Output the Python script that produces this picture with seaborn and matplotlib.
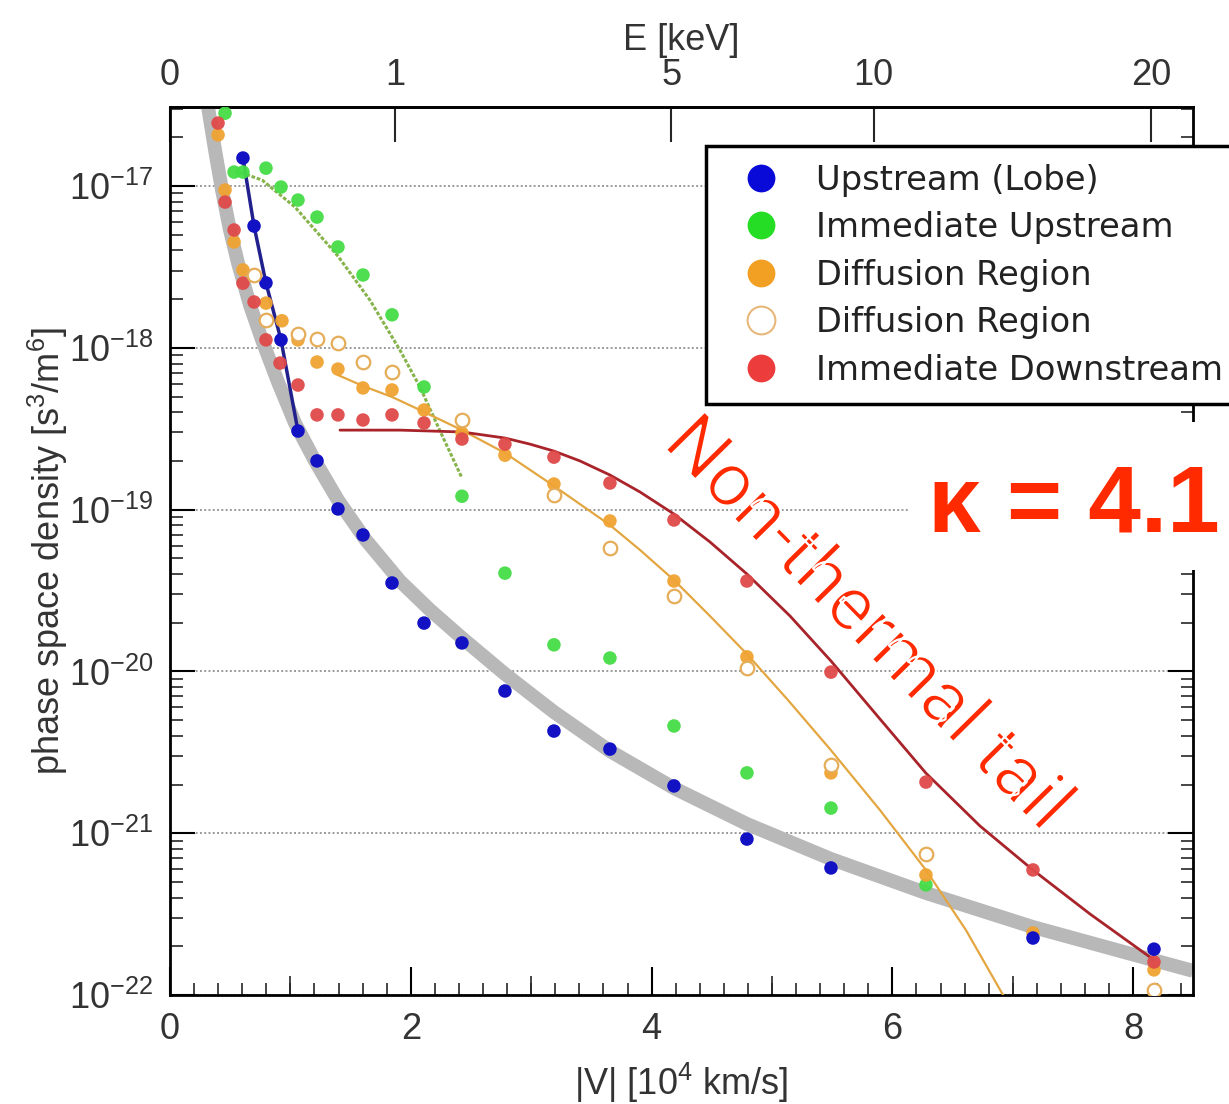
import numpy as np
import pandas as pd
import matplotlib
matplotlib.use("Agg")
import matplotlib.pyplot as plt
import matplotlib.patheffects as pe
import seaborn as sns
from matplotlib.ticker import MultipleLocator, FixedLocator, LogLocator, LogFormatterMathtext, NullFormatter
from matplotlib.lines import Line2D
from matplotlib.patches import Rectangle

# ---------------- data (|V| in 10^4 km/s, phase space density in s^3/m^6) ----------------
lobe_v = [0.606, 0.698, 0.797, 0.922, 1.063, 1.221, 1.395, 1.603, 1.844, 2.110, 2.425, 2.782,
          3.189, 3.654, 4.186, 4.792, 5.490, 7.168, 8.173]
lobe_f = [1.49e-17, 5.66e-18, 2.52e-18, 1.12e-18, 3.06e-19, 2.0e-19, 1.01e-19, 6.97e-20, 3.52e-20,
          1.99e-20, 1.50e-20, 7.57e-21, 4.28e-21, 3.31e-21, 1.96e-21, 9.2e-22, 6.1e-22, 2.25e-22, 1.92e-22]

imup_v = [0.457, 0.532, 0.606, 0.797, 0.922, 1.063, 1.221, 1.395, 1.603, 1.844, 2.110, 2.425,
          2.782, 3.189, 3.654, 4.186, 4.792, 5.490, 6.279]
imup_f = [2.82e-17, 1.22e-17, 1.22e-17, 1.29e-17, 9.86e-18, 8.19e-18, 6.43e-18, 4.20e-18, 2.82e-18,
          1.60e-18, 5.73e-19, 1.21e-19, 4.05e-20, 1.46e-20, 1.21e-20, 4.60e-21, 2.36e-21, 1.43e-21, 4.79e-22]

diff_v = [0.399, 0.457, 0.532, 0.606, 0.797, 0.930, 1.063, 1.221, 1.395, 1.603, 1.844, 2.110,
          2.425, 2.782, 3.189, 3.654, 4.186, 4.792, 5.490, 6.279, 7.168, 8.173]
diff_f = [2.07e-17, 9.45e-18, 4.51e-18, 3.03e-18, 1.89e-18, 1.47e-18, 1.12e-18, 8.17e-19, 7.39e-19,
          5.65e-19, 5.49e-19, 4.13e-19, 2.97e-19, 2.17e-19, 1.44e-19, 8.51e-20, 3.62e-20, 1.23e-20,
          2.36e-21, 5.52e-22, 2.42e-22, 1.43e-22]

diffo_v = [0.698, 0.797, 1.063, 1.221, 1.395, 1.603, 1.844, 2.425, 3.189, 3.654, 4.186, 4.792,
           5.490, 6.279, 8.173]
diffo_f = [2.82e-18, 1.49e-18, 1.22e-18, 1.13e-18, 1.07e-18, 8.17e-19, 7.08e-19, 3.58e-19, 1.23e-19,
           5.79e-20, 2.92e-20, 1.05e-20, 2.64e-21, 7.43e-22, 1.07e-22]

imdn_v = [0.399, 0.457, 0.532, 0.606, 0.698, 0.797, 0.914, 1.063, 1.221, 1.395, 1.603, 1.844, 2.110,
          2.425, 2.782, 3.189, 3.654, 4.186, 4.792, 5.490, 6.279, 7.168, 8.173]
imdn_f = [2.45e-17, 7.96e-18, 5.35e-18, 2.51e-18, 1.92e-18, 1.12e-18, 8.05e-19, 5.89e-19, 3.85e-19,
          3.85e-19, 3.58e-19, 3.85e-19, 3.43e-19, 2.73e-19, 2.54e-19, 2.11e-19, 1.46e-19, 8.63e-20,
          3.62e-20, 9.9e-21, 2.07e-21, 5.93e-22, 1.60e-22]

# fitted curves
kappa_v = [0.300, 0.316, 0.374, 0.432, 0.498, 0.565, 0.664, 0.764, 0.897, 1.038, 1.204, 1.395, 1.620,
           1.910, 2.159, 2.425, 2.782, 3.189, 3.654, 4.186, 4.792, 5.490, 6.279, 7.168, 8.173, 8.497]
kappa_f = [3.8e-17, 3.08e-17, 1.67e-17, 9.45e-18, 5.35e-18, 3.34e-18, 1.84e-18, 1.12e-18, 6.15e-19,
           3.43e-19, 2.00e-19, 1.146e-19, 6.58e-20, 3.62e-20, 2.40e-20, 1.61e-20, 9.64e-21, 5.61e-21,
           3.22e-21, 1.90e-21, 1.14e-21, 6.93e-22, 4.27e-22, 2.63e-22, 1.64e-22, 1.41e-22]

imup_fit_v = [0.548, 0.764, 1.038, 1.395, 1.661, 1.910, 2.076, 2.243, 2.425]
imup_fit_f = [1.24e-17, 1.09e-17, 7.42e-18, 3.69e-18, 1.97e-18, 9.68e-19, 5.73e-19, 3.06e-19, 1.57e-19]

diff_fit_v = [1.395, 1.603, 1.844, 2.076, 2.425, 2.782, 3.189, 3.654, 3.904, 4.186, 4.485, 4.792,
              5.133, 5.482, 5.897, 6.279, 6.611, 6.919, 6.977]
diff_fit_f = [6.79e-19, 5.81e-19, 4.97e-19, 4.13e-19, 3.10e-19, 2.24e-19, 1.40e-19, 8.03e-20, 5.63e-20,
              3.67e-20, 2.20e-20, 1.28e-20, 6.65e-21, 3.31e-21, 1.39e-21, 5.92e-22, 2.52e-22, 1.0e-22,
              8.31e-23]

imdn_fit_v = [1.412, 1.910, 2.425, 2.782, 2.990, 3.189, 3.405, 3.654, 3.904, 4.186, 4.485, 4.792,
              5.150, 5.490, 5.897, 6.279, 6.728, 7.168, 7.641, 8.173]
imdn_fit_f = [3.10e-19, 3.10e-19, 3.02e-19, 2.77e-19, 2.54e-19, 2.30e-19, 2.00e-19, 1.637e-19, 1.285e-19,
              9.39e-20, 6.31e-20, 4.00e-20, 2.20e-20, 1.16e-20, 5.08e-21, 2.35e-21, 1.108e-21, 5.92e-22,
              3.17e-22, 1.646e-22]

legend_labels = ["Upstream (Lobe)", "Immediate Upstream", "Diffusion Region", "Diffusion Region",
                 "Immediate Downstream"]
energy_ticks = [0, 1, 5, 10, 20]  # keV
v_ticks = [0, 2, 4, 6, 8]

# ---------------- style ----------------
sns.set_theme(style="white")
plt.rcParams['font.family'] = ['Liberation Sans', 'DejaVu Sans']
plt.rcParams['mathtext.fontset'] = 'custom'
plt.rcParams['mathtext.rm'] = 'Liberation Sans'
plt.rcParams['mathtext.it'] = 'Liberation Sans'
plt.rcParams['mathtext.bf'] = 'Liberation Sans:bold'

fig = plt.figure(figsize=(12.29, 11.04), dpi=100)
ax = fig.add_axes([170 / 1229, 1 - 995 / 1104, (1193 - 170) / 1229, (995 - 107) / 1104])
ax.set_yscale('log')

def df(v, f):
    return pd.DataFrame({"v": v, "f": f})

# fits
sns.lineplot(data=df(kappa_v, kappa_f), x="v", y="f", sort=False, estimator=None, ax=ax,
             color="#b8b8b8", lw=10, zorder=2, solid_capstyle="butt")
sns.lineplot(data=df(imup_fit_v, imup_fit_f), x="v", y="f", sort=False, estimator=None, ax=ax,
             color="#86b34a", lw=2.2, zorder=3, linestyle=(0, (1.2, 0.6)))
sns.lineplot(data=df(diff_fit_v, diff_fit_f), x="v", y="f", sort=False, estimator=None, ax=ax,
             color="#e3a640", lw=1.6, zorder=3)
sns.lineplot(data=df(imdn_fit_v, imdn_fit_f), x="v", y="f", sort=False, estimator=None, ax=ax,
             color="#a8242a", lw=2.0, zorder=3)
sns.lineplot(data=df(lobe_v[:5], lobe_f[:5]), x="v", y="f", sort=False, estimator=None, ax=ax,
             color="#22208c", lw=2.5, zorder=3)

# points
ms = 95
sns.scatterplot(data=df(imup_v, imup_f), x="v", y="f", ax=ax, color="#45dd45", s=ms,
                edgecolor="none", zorder=4, alpha=0.95)
sns.scatterplot(data=df(diff_v, diff_f), x="v", y="f", ax=ax, color="#f0a332", s=ms,
                edgecolor="none", zorder=4, alpha=0.95)
sns.scatterplot(data=df(diffo_v, diffo_f), x="v", y="f", ax=ax, color="white", s=ms,
                edgecolor="#e6ad58", linewidth=1.6, zorder=5)
sns.scatterplot(data=df(imdn_v, imdn_f), x="v", y="f", ax=ax, color="#e04a4a", s=ms,
                edgecolor="none", zorder=4, alpha=0.95)
sns.scatterplot(data=df(lobe_v, lobe_f), x="v", y="f", ax=ax, color="#1212c4", s=ms,
                edgecolor="none", zorder=4)

# axes limits & ticks
ax.set_xlim(0, 8.497)
ax.set_ylim(1e-22, 3.08e-17)

ax.xaxis.set_major_locator(FixedLocator(v_ticks))
ax.xaxis.set_minor_locator(MultipleLocator(0.2))
ax.yaxis.set_major_locator(LogLocator(base=10))
ax.yaxis.set_minor_locator(LogLocator(base=10, subs=np.arange(2, 10)))
ax.yaxis.set_major_formatter(LogFormatterMathtext())
ax.yaxis.set_minor_formatter(NullFormatter())

tick_col = "#333333"
ax.tick_params(axis='both', which='major', direction='in', width=1.5, colors='black',
               labelcolor=tick_col, labelsize=26)
ax.tick_params(axis='x', which='major', length=20, pad=12, bottom=True, top=False)
ax.tick_params(axis='x', which='minor', direction='in', length=9, width=1.2, bottom=True, top=False)
ax.tick_params(axis='y', which='major', length=18, pad=12, left=True, right=True)
ax.tick_params(axis='y', which='minor', direction='in', length=9, width=1.2, left=True, right=True)

# medium ticks at odd integers
odd = ax.secondary_xaxis('bottom')
odd.set_xticks([1, 3, 5, 7])
odd.tick_params(direction='in', length=14, width=1.2, labelbottom=False)
odd.spines['bottom'].set_visible(False)

for sp in ax.spines.values():
    sp.set_color("black")
    sp.set_linewidth(2)

ax.yaxis.grid(True, which='major', color='#9a9a9a', linestyle=(0, (1, 1.2)), lw=1.4)
ax.xaxis.grid(False)

# top energy axis (relativistic electrons)
def e_to_v(E):
    gamma = 1 + np.asarray(E, dtype=float) / 511.0
    beta = np.sqrt(1 - 1 / gamma ** 2)
    return beta * 299792.458 / 1e4

top = ax.secondary_xaxis('top')
top.set_xticks(e_to_v(energy_ticks), labels=[str(e) for e in energy_ticks])
top.tick_params(direction='in', length=25, width=1.5, labelsize=26, labelcolor=tick_col, pad=10)
top.spines['top'].set_linewidth(2)
top.set_xlabel("E [keV]", fontsize=26, color=tick_col, labelpad=6)

ax.set_xlabel(r"|V| [10$^4$ km/s]", fontsize=26, color=tick_col)
ax.xaxis.set_label_coords(0.5, -0.074)
ax.set_ylabel(r"phase space density [s$^3$/m$^6$]", fontsize=26, color=tick_col)
ax.yaxis.set_label_coords(-0.098, 0.5)

# white box behind kappa label
fig.add_artist(Rectangle((910 / 1229, 1 - 570 / 1104), (1229 - 910) / 1229, (570 - 422) / 1104,
                         transform=fig.transFigure, facecolor='white', edgecolor='none', zorder=5))
fig.text(1074 / 1229, 1 - 532 / 1104, "κ = 4.1", color="#ff2a00", fontsize=68, fontweight='bold',
         family=['Liberation Sans', 'DejaVu Sans'], ha='center', va='baseline', zorder=6)

fig.text(867 / 1229, 1 - 625 / 1104, "Non-thermal tail", color="#ff2a00", fontsize=55,
         fontweight='normal', family=['Roboto', 'Lato', 'DejaVu Sans'], rotation=-45.5,
         rotation_mode='anchor', ha='center', va='center', zorder=6,
         path_effects=[pe.Stroke(linewidth=1.6, foreground='white')])

# legend
handles = [
    Line2D([], [], ls='none', marker='o', markersize=20, markerfacecolor='#0a0ad8', markeredgecolor='none'),
    Line2D([], [], ls='none', marker='o', markersize=20, markerfacecolor='#25dd25', markeredgecolor='none'),
    Line2D([], [], ls='none', marker='o', markersize=20, markerfacecolor='#f2a024', markeredgecolor='none'),
    Line2D([], [], ls='none', marker='o', markersize=20, markerfacecolor='white', markeredgecolor='#e8b87a',
           markeredgewidth=1.5),
    Line2D([], [], ls='none', marker='o', markersize=20, markerfacecolor='#ec3c3c', markeredgecolor='none'),
]
leg = fig.legend(handles, legend_labels, loc='upper left', bbox_to_anchor=(706 / 1229, 1 - 146 / 1104),
                 bbox_transform=fig.transFigure, prop={'family': 'DejaVu Sans', 'size': 24.3},
                 frameon=True, fancybox=False, edgecolor='black', framealpha=1, borderpad=0.52,
                 labelspacing=0.43, handletextpad=0.55, handlelength=2.2, borderaxespad=0)
leg.get_frame().set_linewidth(2.5)
leg.set_zorder(7)
for t in leg.get_texts():
    t.set_color('#222222')

fig.savefig("out.png", dpi=100)
